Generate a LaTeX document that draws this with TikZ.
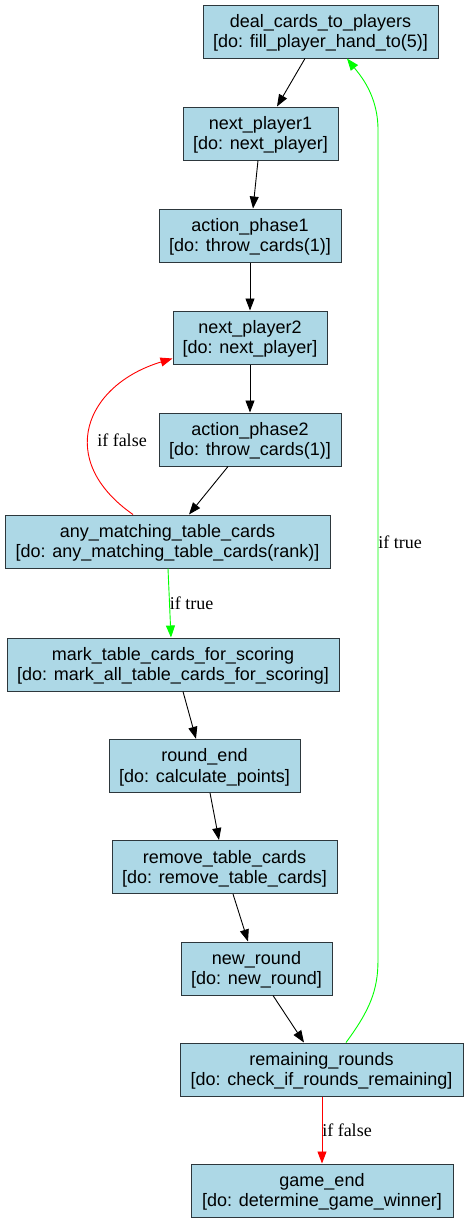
\documentclass[tikz,border=0pt]{standalone}
\usepackage{fontspec}
\setmainfont{Liberation Sans}
\newfontfamily\labelfont{Liberation Serif}
\usetikzlibrary{arrows.meta}
\definecolor{boxfill}{RGB}{173,216,230}
\definecolor{boxline}{RGB}{45,55,60}
\definecolor{gvgreen}{RGB}{0,255,0}
\definecolor{gvred}{RGB}{255,0,0}
\newcommand{\gvstate}[6]{%
  \node[statebox, minimum width=#4] (#1) at (#2,#3) {};
  \node[statetext] (#1-a) at ([yshift=-23pt]#1.north) {#5};
  \node[statetext] (#1-b) at ([yshift=-43.4pt]#1.north) {#6};
}
\begin{document}
\begin{tikzpicture}[x=1pt,y=-1pt,
  statebox/.style={draw=boxline, fill=boxfill, line width=1pt, minimum height=53pt, inner sep=0pt},
  statetext/.style={anchor=base, inner sep=0pt, font=\fontsize{18}{21}\selectfont},
  flow/.style={line width=0.9pt, -{Triangle[length=12pt,width=9pt]}},
  edgelabel/.style={font=\labelfont\fontsize{18}{21}\selectfont, inner sep=0pt}]
\useasboundingbox (0,0) rectangle (469,1227);
\fill[white] (0,0) rectangle (469,1227);

\gvstate{deal}{320.5}{31.5}{235pt}{deal\_cards\_to\_players}{[do: fill\_player\_hand\_to(5)]}
\gvstate{np1}{260.5}{133.5}{155pt}{next\_player1}{[do: next\_player]}
\gvstate{ap1}{250}{235.5}{182pt}{action\_phase1}{[do: throw\_cards(1)]}
\gvstate{np2}{250}{337.5}{154pt}{next\_player2}{[do: next\_player]}
\gvstate{ap2}{250}{439.5}{182pt}{action\_phase2}{[do: throw\_cards(1)]}
\gvstate{any}{167.5}{541.5}{325pt}{any\_matching\_table\_cards}{[do: any\_matching\_table\_cards(rank)]}
\gvstate{mark}{173}{664.5}{332pt}{mark\_table\_cards\_for\_scoring}{[do: mark\_all\_table\_cards\_for\_scoring]}
\gvstate{rend}{204.5}{765.8}{191pt}{round\_end}{[do: calculate\_points]}
\gvstate{remove}{224.5}{867}{225pt}{remove\_table\_cards}{[do: remove\_table\_cards]}
\gvstate{newr}{256.5}{968.5}{151pt}{new\_round}{[do: new\_round]}
\gvstate{remain}{321.5}{1069.5}{283pt}{remaining\_rounds}{[do: check\_if\_rounds\_remaining]}
\gvstate{gend}{322}{1190.5}{262pt}{game\_end}{[do: determine\_game\_winner]}

\draw[flow] ([xshift=-15.5pt]deal.south) -- ([xshift=16.5pt]np1.north);
\draw[flow] ([xshift=-2.5pt]np1.south) -- ([xshift=3pt]ap1.north);
\draw[flow] (ap1.south) -- (np2.north);
\draw[flow] (np2.south) -- (ap2.north);
\draw[flow] ([xshift=-22pt]ap2.south) -- ([xshift=21.5pt]any.north);
\draw[flow, color=gvred] ([xshift=-34.5pt]any.north) .. controls (55,460) and (85,385) .. ([yshift=6pt]np2.south west);
\node[edgelabel] (lbl1) at (122,440) {if false};
\draw[flow, color=gvgreen] ([xshift=0.5pt]any.south) -- ([xshift=-2pt]mark.north);
\node[edgelabel] (lbl2) at (191.5,603) {if true};
\draw[flow] ([xshift=10pt]mark.south) -- ([xshift=-8.5pt]rend.north);
\draw[flow] ([xshift=5.5pt]rend.south) -- ([xshift=-5.5pt]remove.north);
\draw[flow] ([xshift=8.5pt]remove.south) -- ([xshift=-8.5pt]newr.north);
\draw[flow] ([xshift=16.5pt]newr.south) -- ([xshift=-17.5pt]remain.north);
\draw[flow, color=gvgreen] ([xshift=24.5pt]remain.north) .. controls (370,1010) and (378,990) .. (378,960) -- (378,130) .. controls (378,95) and (360,75) .. ([xshift=26.5pt]deal.south);
\node[edgelabel] (lbl3) at (400,542) {if true};
\draw[flow, color=gvred] ([xshift=0.5pt]remain.south) -- (gend.north);
\node[edgelabel] (lbl4) at (347,1130) {if false};
\end{tikzpicture}
\end{document}
